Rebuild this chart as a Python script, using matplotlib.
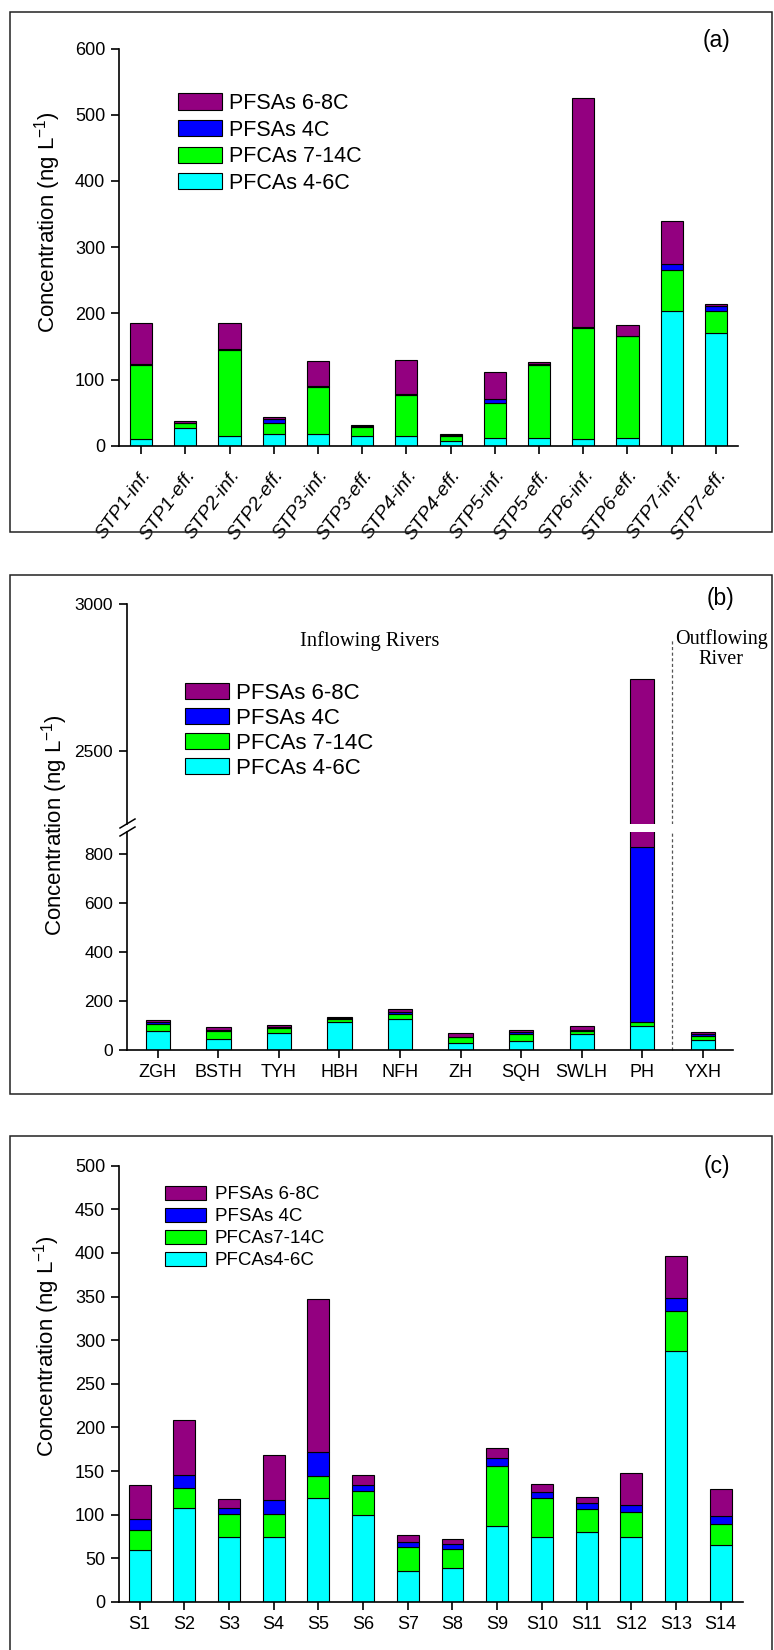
import numpy as np
import matplotlib
matplotlib.use('Agg')
import matplotlib.pyplot as plt
from matplotlib.patches import Patch, Rectangle
from matplotlib.lines import Line2D

plt.rcParams['font.family'] = ['Liberation Sans', 'DejaVu Sans']
plt.rcParams['mathtext.fontset'] = 'custom'
plt.rcParams['mathtext.rm'] = 'Liberation Sans'

# ---- data, panel (a): sewage treatment plants ----
cats_a = ['STP1-inf.', 'STP1-eff.', 'STP2-inf.', 'STP2-eff.', 'STP3-inf.', 'STP3-eff.',
          'STP4-inf.', 'STP4-eff.', 'STP5-inf.', 'STP5-eff.', 'STP6-inf.', 'STP6-eff.',
          'STP7-inf.', 'STP7-eff.']
pfca46_a = [10, 27, 14, 17, 17, 14, 15, 7, 11, 11, 10, 11, 204, 171]
pfca714_a = [112, 7, 131, 18, 71, 15, 62, 8, 54, 111, 168, 154, 61, 33]
pfsa4_a = [1, 1, 1, 5, 1.5, 1, 1.5, 0.5, 5, 2, 1, 1, 10, 7]
pfsa68_a = [63, 2, 39, 3, 38.5, 1, 51.5, 1.5, 41, 2, 347, 17, 65, 3]

# ---- data, panel (b): rivers ----
cats_b = ['ZGH', 'BSTH', 'TYH', 'HBH', 'NFH', 'ZH', 'SQH', 'SWLH', 'PH', 'YXH']
pfca46_b = [79, 44, 70, 115, 127, 28, 37, 64, 98, 41]
pfca714_b = [27, 33, 21, 12, 18, 24, 28, 12, 16, 18]
pfsa4_b = [10, 6, 4, 4, 10, 3, 10, 6, 713, 7]
pfsa68_b = [7, 9, 6, 4, 12, 14, 7, 16, 1917, 7]

# ---- data, panel (c): lake sites ----
cats_c = ['S1', 'S2', 'S3', 'S4', 'S5', 'S6', 'S7', 'S8', 'S9', 'S10', 'S11', 'S12', 'S13', 'S14']
pfca46_c = [60, 108, 74, 75, 119, 100, 36, 39, 87, 74, 80, 75, 288, 65]
pfca714_c = [23, 23, 27, 26, 25, 27, 27, 22, 69, 45, 27, 28, 46, 24]
pfsa4_c = [12, 15, 7, 16, 28, 7, 6, 5, 9, 7, 6, 8, 14, 9]
pfsa68_c = [39, 63, 10, 51, 175, 12, 8, 6, 12, 9.5, 7, 37, 49, 32]

colors = ['#00FFFF', '#00FF00', '#0000FF', '#930080']
labels_ab = ['PFCAs 4-6C', 'PFCAs 7-14C', 'PFSAs 4C', 'PFSAs 6-8C']
labels_c = ['PFCAs4-6C', 'PFCAs7-14C', 'PFSAs 4C', 'PFSAs 6-8C']
ylab = 'Concentration (ng L$^{-1}$)'

W, H = 774, 1650
fig = plt.figure(figsize=(W / 100, H / 100), dpi=100)


def fx(px):
    return px / W


def fy(py):
    return 1 - py / H


def stack(ax, series, width):
    x = np.arange(len(series[0]))
    bottom = np.zeros(len(x))
    for vals, col in zip(series, colors):
        ax.bar(x, vals, width, bottom=bottom, color=col, edgecolor='black', linewidth=0.8)
        bottom = bottom + np.array(vals)
    return x


def style(ax, size):
    ax.spines['top'].set_visible(False)
    ax.spines['right'].set_visible(False)
    ax.spines['left'].set_linewidth(1.2)
    ax.spines['bottom'].set_linewidth(1.2)
    ax.tick_params(direction='out', length=6, width=1.2, labelsize=size, pad=4)


def legend(ax, labels, size, left, top, hl, hh, ls, tp):
    handles = [Patch(facecolor=c, edgecolor='black', linewidth=0.8) for c in colors]
    ax.legend(handles[::-1], labels[::-1], loc='upper left', frameon=False,
              bbox_to_anchor=(fx(left), fy(top)), bbox_transform=fig.transFigure,
              fontsize=size, handlelength=hl, handleheight=hh, labelspacing=ls,
              handletextpad=tp, borderpad=0, borderaxespad=0)


# panel frames
for top, bot in [(12.4, 532.3), (575, 1094.3), (1136, 1660)]:
    fig.patches.append(Rectangle((fx(10), fy(bot)), fx(771.7) - fx(10), fy(top) - fy(bot),
                                 transform=fig.transFigure, fill=False,
                                 edgecolor='#222222', linewidth=1.1))

# ---------------- (a) ----------------
axa = fig.add_axes([fx(119), fy(445.7), fx(738) - fx(119), fy(48.6) - fy(445.7)])
x = stack(axa, [pfca46_a, pfca714_a, pfsa4_a, pfsa68_a], 0.5)
style(axa, 13)
axa.set_xlim(-0.5, 13.5)
axa.set_ylim(0, 600)
axa.set_yticks(range(0, 601, 100))
axa.set_xticks(x)
axa.set_xticklabels(cats_a, rotation=54, ha='right', va='top', rotation_mode='anchor',
                    style='italic', fontsize=14)
axa.tick_params(axis='x', pad=9)
legend(axa, labels_ab, 15.5, 177.7, 93, 2.06, 0.77, 0.26, 0.3)
fig.text(fx(717), fy(41), '(a)', fontsize=16.5, ha='center', va='center')
fig.text(fx(48), fy(222), ylab, rotation=90, fontsize=16, ha='center', va='center')

# ---------------- (b) ----------------
bl, br = 127, 733
axu = fig.add_axes([fx(bl), fy(824), fx(br) - fx(bl), fy(604) - fy(824)])
axl = fig.add_axes([fx(bl), fy(1050), fx(br) - fx(bl), fy(832) - fy(1050)])
series_b = [pfca46_b, pfca714_b, pfsa4_b, pfsa68_b]
for ax in (axu, axl):
    xb = stack(ax, series_b, 0.4)
    style(ax, 12.5)
    ax.set_xlim(-0.51, 9.5)
axu.set_ylim(2250, 3000)
axu.set_yticks([2500, 3000])
axu.spines['bottom'].set_visible(False)
axu.set_xticks([])
axl.set_ylim(0, 890)
axl.set_yticks(range(0, 801, 200))
axl.set_xticks(xb)
axl.set_xticklabels(cats_b, fontsize=13)
# divider between inflowing and outflowing rivers
axl.plot([8.5, 8.5], [0, 890], ls=(0, (2.5, 2)), color='#555555', lw=0.9, clip_on=False)
axu.plot([8.5, 8.5], [2250, 2880], ls=(0, (2.5, 2)), color='#555555', lw=0.9)
# axis break marks
for yc in (823.5, 831.5):
    fig.add_artist(Line2D([fx(120), fx(135)], [fy(yc + 4.5), fy(yc - 4.5)], color='black', lw=1.1))
legend(axl, labels_ab, 16, 185, 683, 1.96, 0.75, 0.18, 0.33)
fig.text(fx(721), fy(598), '(b)', fontsize=16.5, ha='center', va='center')
fig.text(fx(370), fy(641), 'Inflowing Rivers', fontsize=14.8, ha='center', va='center',
         family=['Liberation Serif', 'DejaVu Serif'])
fig.text(fx(721), fy(649), 'Outflowing\nRiver', fontsize=14.5, ha='center', va='center',
         linespacing=1.1, family=['Liberation Serif', 'DejaVu Serif'])
fig.text(fx(55), fy(825), ylab, rotation=90, fontsize=16, ha='center', va='center')

# ---------------- (c) ----------------
axc = fig.add_axes([fx(119), fy(1602), fx(743) - fx(119), fy(1165.7) - fy(1602)])
xc = stack(axc, [pfca46_c, pfca714_c, pfsa4_c, pfsa68_c], 0.49)
style(axc, 13)
axc.set_xlim(-0.46, 13.5)
axc.set_ylim(0, 500)
axc.set_yticks(range(0, 501, 50))
axc.set_xticks(xc)
axc.set_xticklabels(cats_c, fontsize=13)
legend(axc, labels_c, 13.5, 165, 1185.5, 2.2, 0.8, 0.23, 0.45)
fig.text(fx(717), fy(1167), '(c)', fontsize=16.5, ha='center', va='center')
fig.text(fx(47), fy(1346), ylab, rotation=90, fontsize=16, ha='center', va='center')

fig.savefig('out.png', dpi=100)
